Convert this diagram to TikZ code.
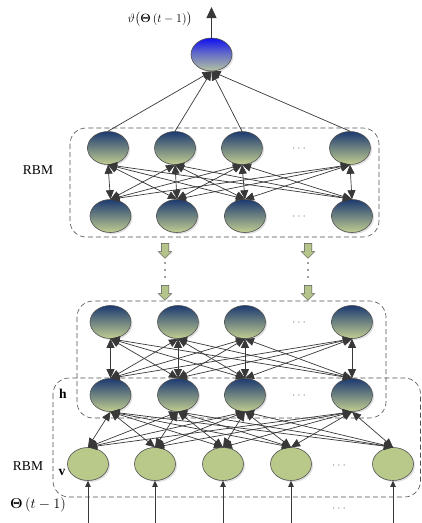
\documentclass[tikz,border=0pt]{standalone}
\usepackage{fontspec}
\setmainfont{Liberation Serif}
\usepackage{amsmath,bm}
\usetikzlibrary{arrows.meta,shapes.geometric,shapes.arrows,shadows,calc}
\definecolor{hidtop}{HTML}{1C3A70}
\definecolor{hidbot}{HTML}{C2CE92}
\definecolor{vis}{HTML}{B8C98A}
\definecolor{outtop}{HTML}{1010F0}
\definecolor{outbot}{HTML}{B4C4A0}
\definecolor{edgec}{HTML}{383838}
\definecolor{boxc}{HTML}{505050}
\definecolor{blk}{HTML}{B5C48A}
\tikzset{
  unit/.style={ellipse, minimum width=41pt, minimum height=33pt, inner sep=0pt,
    draw=boxc, line width=0.6pt,
    drop shadow={opacity=0.25, shadow xshift=1.5pt, shadow yshift=-1.5pt}},
  hid/.style={unit, top color=hidtop, bottom color=hidbot},
  visu/.style={unit, fill=vis},
  outu/.style={unit, top color=outtop, bottom color=outbot, middle color=outtop!45!outbot},
  link/.style={draw=edgec, line width=0.7pt, {Triangle[length=9pt,width=8pt]}-{Triangle[length=9pt,width=8pt]}},
  onelink/.style={draw=edgec, line width=0.7pt, -{Triangle[length=9pt,width=8pt]}},
  inlink/.style={draw=edgec, line width=0.7pt, -{Triangle[length=6pt,width=5.5pt]}},
  outlink/.style={draw=edgec, line width=0.8pt, -{Triangle[length=11pt,width=10pt]}},
  rbmbox/.style={draw=boxc, line width=0.6pt, dash pattern=on 5pt off 3pt, rounded corners=16pt},
  blockarrow/.style={single arrow, draw=boxc, fill=blk, line width=0.5pt, inner sep=3.5pt,
    single arrow head extend=3pt, minimum height=15pt, rotate=-90},
  dotsl/.style={text=gray, font=\fontsize{13}{15}\selectfont},
  lab/.style={font=\fontsize{13.5}{16}\selectfont},
}
\begin{document}
\begin{tikzpicture}[x=1pt,y=-1pt]
\useasboundingbox (0,0) rectangle (422,523);
% boxes
\draw[rbmbox] (70,128) rectangle (379,237);
\draw[rbmbox] (77,301) rectangle (386,418);
\draw[rbmbox] (53,378) rectangle (420.5,497);
% output node
\node[outu] (T) at (211.5,54.5) {};
\coordinate (Tout) at (211.5,7);
% top RBM
\node[hid] (A1) at (108,148) {};
\node[hid] (A2) at (175,148) {};
\node[hid] (A3) at (242,148) {};
\node[hid] (A4) at (350,148) {};
\node[hid] (B1) at (110.5,216) {};
\node[hid] (B2) at (177,216) {};
\node[hid] (B3) at (245,216) {};
\node[hid] (B4) at (352,216) {};
% lower stack
\node[hid] (C1) at (110.5,322) {};
\node[hid] (C2) at (178,322) {};
\node[hid] (C3) at (245,322) {};
\node[hid] (C4) at (352,322) {};
\node[hid] (H1) at (110.5,395) {};
\node[hid] (H2) at (178,395) {};
\node[hid] (H3) at (245,395) {};
\node[hid] (H4) at (352,395) {};
\node[visu] (V1) at (88,464) {};
\node[visu] (V2) at (155,464) {};
\node[visu] (V3) at (223,464) {};
\node[visu] (V4) at (291,464) {};
\node[visu] (V5) at (393,464) {};
% input coordinates
\foreach \i/\x in {1/88,2/155,3/223,4/291,5/393}
  \coordinate (I\i) at (\x,523);
% edges
\draw[outlink] (T.north) -- (Tout);
\foreach \i in {1,...,4} \draw[onelink] (A\i.north) -- (T.south);
\foreach \i in {1,...,4} \foreach \j in {1,...,4} \draw[link] (A\i.south) -- (B\j.north);
\foreach \i in {1,...,4} \foreach \j in {1,...,4} \draw[link] (C\i.south) -- (H\j.north);
\foreach \i in {1,...,4} \foreach \j in {1,...,5} \draw[link] (H\i.south) -- (V\j.north);
\foreach \i in {1,...,5} \draw[inlink] (I\i) -- (V\i.south);
% block arrows and dots
\node[blockarrow] (BA1) at (165,249) {};
\node[blockarrow] (BA2) at (308,249) {};
\node[blockarrow] (BA3) at (165,291) {};
\node[blockarrow] (BA4) at (308,291) {};
\foreach \x in {165,308} \foreach \y in {263,270,277}
  \fill[edgec] (\x,\y) circle (0.9pt);
% dots
\node[dotsl] (D1) at (300,149) {$\cdots$};
\node[dotsl] (D2) at (300,217) {$\cdots$};
\node[dotsl] (D3) at (300,323) {$\cdots$};
\node[dotsl] (D4) at (300,396) {$\cdots$};
\node[dotsl] (D5) at (340,466) {$\cdots$};
\node[dotsl] (D6) at (340,509) {$\cdots$};
% labels
\node[lab] (L1) at (38,170) {RBM};
\node[lab] (L2) at (28,466) {RBM};
\node[lab] (Lh) at (63,394) {$\mathbf{h}$};
\node[lab] (Lv) at (62,472) {$\mathbf{v}$};
\node[lab] (Lin) at (38,505) {$\bm{\Theta}\,(t-1)$};
\node[font=\fontsize{13}{15}\selectfont, inner sep=0pt] (Lout) at (160,19) {$\vartheta\bigl(\bm{\Theta}\,(t-1)\bigr)$};
\end{tikzpicture}
\end{document}
